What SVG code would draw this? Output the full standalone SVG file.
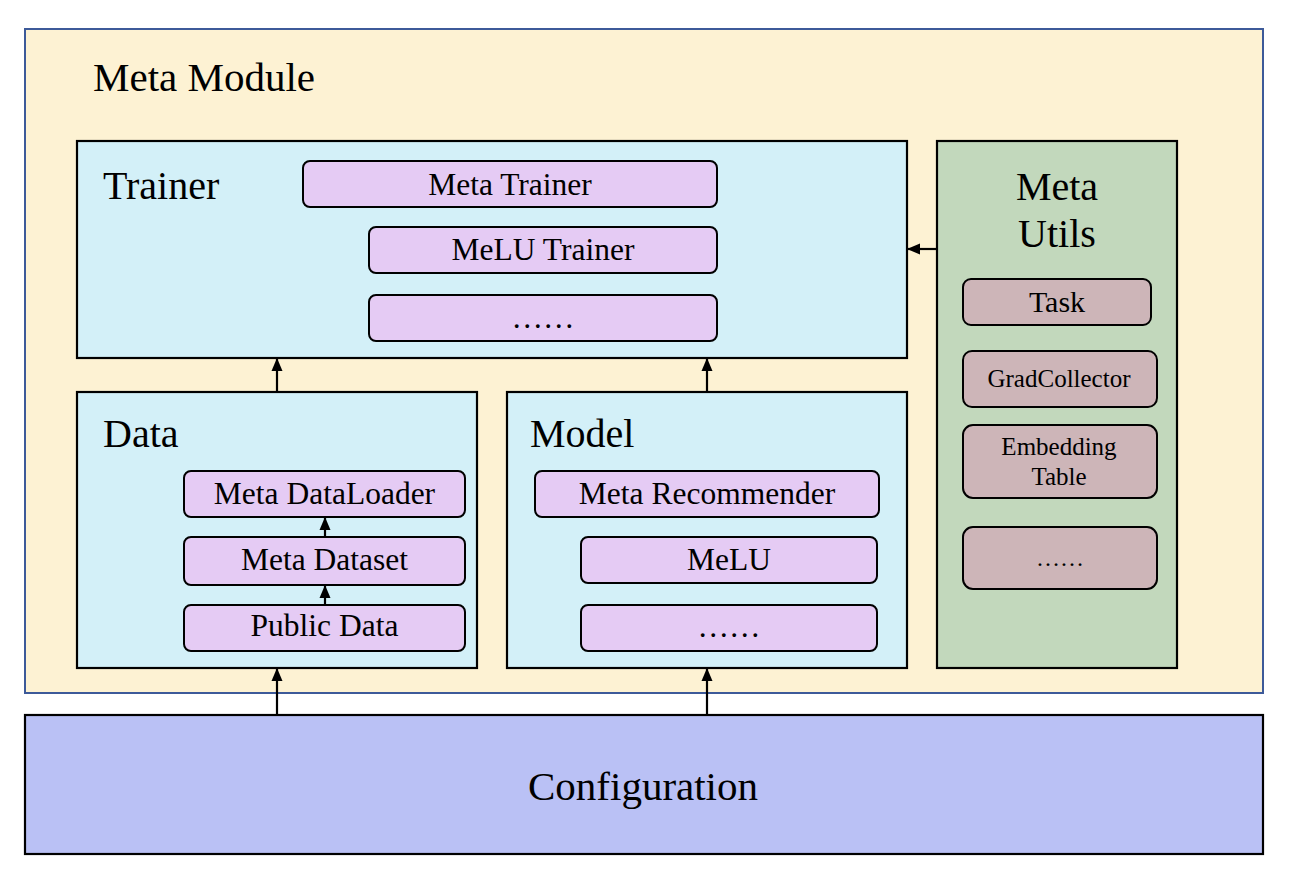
<svg xmlns="http://www.w3.org/2000/svg" width="1294" height="886" viewBox="0 0 1294 886">
<style>
text{font-family:"Liberation Serif","Times New Roman",serif;fill:#000}
.c{text-anchor:middle}
.title{font-size:40px}
.item{font-size:31.5px}
.panel{fill:#d3f0f8;stroke:#000;stroke-width:2.2}
.pur{fill:#e5cbf4;stroke:#000;stroke-width:2}
.ut{fill:#cdb5b8;stroke:#000;stroke-width:2}
.conn{stroke:#000;stroke-width:2.2;fill:none;marker-end:url(#ah)}
</style>
<defs>
<marker id="ah" markerUnits="userSpaceOnUse" markerWidth="13" markerHeight="12" viewBox="0 0 13 12" refX="12" refY="6" orient="auto">
<path d="M0,0.5 L13,6 L0,11.5 Z" fill="#000"/>
</marker>
</defs>
<rect width="1294" height="886" fill="#fff"/>
<g id="meta-module">
<rect x="25" y="29" width="1238" height="664" fill="#fdf2d3" stroke="#3d5a99" stroke-width="2"/>
<text class="title" x="93" y="91" font-size="41" style="font-size:41px">Meta Module</text>
</g>
<g id="trainer">
<rect class="panel" x="77" y="141" width="830" height="217"/>
<text class="title" x="103" y="199">Trainer</text>
</g>
<g id="meta-trainer">
<rect class="pur" x="303" y="161" width="414" height="46" rx="7"/>
<text class="item c" x="510" y="195">Meta Trainer</text>
</g>
<g id="melu-trainer">
<rect class="pur" x="369" y="227" width="348" height="46" rx="7"/>
<text class="item c" x="543" y="260">MeLU Trainer</text>
</g>
<g id="trainer-more">
<rect class="pur" x="369" y="295" width="348" height="46" rx="7"/>
<text class="item c" x="543" y="328">……</text>
</g>
<g id="data">
<rect class="panel" x="77" y="392" width="400" height="276"/>
<text class="title" x="103" y="447">Data</text>
</g>
<g id="meta-dataloader">
<rect class="pur" x="184" y="471" width="281" height="46" rx="7"/>
<text class="item c" x="324.5" y="503.5">Meta DataLoader</text>
</g>
<g id="meta-dataset">
<rect class="pur" x="184" y="537" width="281" height="48" rx="7"/>
<text class="item c" x="324.5" y="570">Meta Dataset</text>
</g>
<g id="public-data">
<rect class="pur" x="184" y="605" width="281" height="46" rx="7"/>
<text class="item c" x="324.5" y="636">Public Data</text>
</g>
<g id="model">
<rect class="panel" x="507" y="392" width="400" height="276"/>
<text class="title" x="530" y="447">Model</text>
</g>
<g id="meta-recommender">
<rect class="pur" x="535" y="471" width="344" height="46" rx="7"/>
<text class="item c" x="707" y="503.5">Meta Recommender</text>
</g>
<g id="melu">
<rect class="pur" x="581" y="537" width="296" height="46" rx="7"/>
<text class="item c" x="729" y="570">MeLU</text>
</g>
<g id="model-more">
<rect class="pur" x="581" y="605" width="296" height="46" rx="7"/>
<text class="item c" x="729" y="637">……</text>
</g>
<g id="meta-utils">
<rect x="937" y="141" width="240" height="527" fill="#c2d8bc" stroke="#000" stroke-width="2.2"/>
<text class="title c" x="1057" y="200">Meta</text>
<text class="title c" x="1057" y="247">Utils</text>
</g>
<g id="task">
<rect class="ut" x="963" y="279" width="188" height="46" rx="8"/>
<text class="c" x="1057" y="311.5" font-size="30">Task</text>
</g>
<g id="gradcollector">
<rect class="ut" x="963" y="351" width="194" height="56" rx="9"/>
<text class="c" x="1059" y="386.5" font-size="25">GradCollector</text>
</g>
<g id="embedding-table">
<rect class="ut" x="963" y="425" width="194" height="73" rx="10"/>
<text class="c" x="1059" y="455" font-size="25">Embedding</text>
<text class="c" x="1059" y="485" font-size="25">Table</text>
</g>
<g id="utils-more">
<rect class="ut" x="963" y="527" width="194" height="62" rx="10"/>
<text class="c" x="1060" y="566" font-size="24">……</text>
</g>
<g id="configuration">
<rect x="25" y="715" width="1238" height="139" fill="#bac1f5" stroke="#000" stroke-width="2.2"/>
<text class="c" x="643" y="800" font-size="41">Configuration</text>
</g>
<g id="connectors">
<line class="conn" x1="277" y1="715" x2="277" y2="669"/>
<line class="conn" x1="707" y1="715" x2="707" y2="669"/>
<line class="conn" x1="277" y1="392" x2="277" y2="359"/>
<line class="conn" x1="707" y1="392" x2="707" y2="359"/>
<line class="conn" x1="937" y1="249" x2="908" y2="249"/>
<line class="conn" x1="325" y1="537" x2="325" y2="518"/>
<line class="conn" x1="325" y1="605" x2="325" y2="586"/>
</g>
</svg>
